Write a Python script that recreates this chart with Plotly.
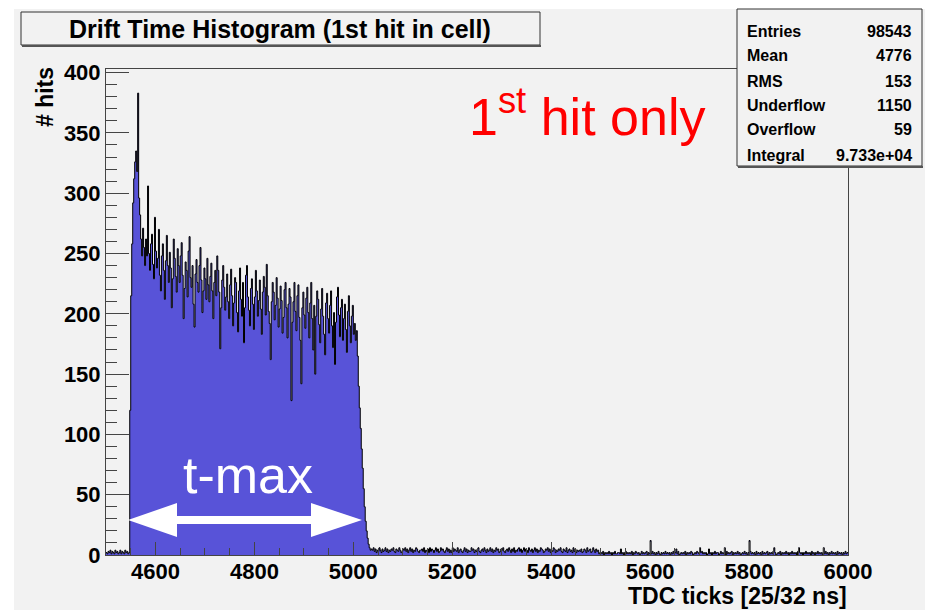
import plotly.graph_objects as go

# ---------------- data ----------------
BIN_START = 4500
BIN_WIDTH = 2

# counts 4500-4547 (before the drift-time edge), one digit per bin
PRE = "213241321423124132142312"

# counts 4548-5035
MAIN = [
    120, 215, 258, 292, 312, 326, 335, 318, 383, 296,
    282, 262, 248, 271, 255, 240, 262, 248, 306, 250,
    236, 258, 266, 241, 229, 280, 252, 238, 246, 270,
    232, 219, 248, 258, 236, 212, 244, 265, 240, 226,
    251, 238, 205, 229, 262, 246, 231, 218, 254, 240,
    226, 248, 259, 232, 196, 221, 243, 236, 214, 252,
    264, 230, 222, 240, 208, 189, 233, 245, 226, 218,
    240, 255, 228, 201, 219, 238, 229, 212, 246, 224,
    210, 231, 242, 219, 196, 226, 236, 215, 248, 236,
    218, 171, 205, 228, 240, 222, 203, 214, 233, 210,
    196, 224, 237, 215, 190, 209, 230, 226, 201, 185,
    219, 238, 212, 198, 226, 176, 205, 232, 240, 214,
    203, 190, 221, 229, 208, 187, 214, 236, 219, 198,
    211, 228, 204, 183, 218, 231, 222, 199, 241, 215,
    202, 192, 162, 210, 226, 218, 195, 207, 230, 213,
    189, 204, 223, 211, 184, 197, 220, 226, 205, 180,
    208, 221, 214, 128, 193, 210, 226, 202, 186, 215,
    224, 197, 178, 142, 205, 218, 199, 188, 213, 222,
    201, 180, 209, 226, 196, 170, 207, 150, 198, 219,
    212, 191, 176, 204, 221, 198, 183, 166, 209, 217,
    196, 184, 207, 219, 190, 172, 201, 158, 193, 214,
    222, 199, 181, 205, 212, 178, 196, 208, 187, 168,
    202, 215, 190, 176, 198, 207, 183, 192, 178, 186,
    165, 140, 122, 105, 88, 72, 55, 40, 28, 20, 14, 9, 6, 4,
]

# counts 5036-5999 (late hits / noise), one digit per bin
TAIL = (
    "5463524364" "2534635243" "5463254364" "2354635246" "3524365324"
    "4536243526" "3542463523" "6453246352" "4263543624" "5324635243"
    "3645243563" "2453642534" "6352436452" "3546324536" "4253624356"
    "3524635426" "4352463524" "3654235463" "5243652435" "4632543624"
    "5342635243" "4352354263" "4523642534" "1221302121" "3120213112"
    "2131202312" "1213021321" "2013121230" "2121312021" "3102121312"
    "1202131221" "3012121302" "1213201213" "2102312120" "1312021312"
    "2013121203" "1212302121" "3120121312" "0213121203" "1212031212"
    "3021213120" "1213021213" "1202131212" "0312120213" "1212031202"
    "1312120213" "1202131212" "0312120213" "12"
)
TAIL_SPIKES = {5540: 5, 5600: 12, 5652: 5, 5700: 6, 5718: 5, 5750: 6,
               5800: 12, 5850: 6, 5900: 6, 5950: 6}

STATS_LABELS = ["Entries", "Mean", "RMS", "Underflow", "Overflow", "Integral"]
STATS_VALUES = ["98543", "4776", "153", "1150", "59", "9.733e+04"]

TITLE = "Drift Time Histogram (1st hit in cell)"
X_TITLE = "TDC ticks [25/32 ns]"
Y_TITLE = "# hits"
X_TICKS = [4600, 4800, 5000, 5200, 5400, 5600, 5800, 6000]
Y_TICKS = [0, 50, 100, 150, 200, 250, 300, 350, 400]

# ---------------- build histogram ----------------
counts = [int(c) for c in PRE] + MAIN + [int(c) for c in TAIL]
tail_start = BIN_START + BIN_WIDTH * (len(PRE) + len(MAIN))
for x, v in TAIL_SPIKES.items():
    i = (x - tail_start) // BIN_WIDTH + len(PRE) + len(MAIN)
    if 0 <= i < len(counts):
        counts[i] = v
edges = [BIN_START + BIN_WIDTH * i for i in range(len(counts) + 1)]
ys = counts + [counts[-1]]

# ---------------- layout geometry ----------------
W, H = 925, 610
L, R, T, B = 106, 848, 69, 555


def px(x):
    return (x - L) / (R - L)


def py(y):
    return (B - y) / (B - T)


FONT = "Liberation Sans, Arial, sans-serif"
FILL = "rgb(88,83,216)"
BG = "#f2f2f2"

fig = go.Figure()
fig.add_trace(go.Scatter(
    x=edges, y=ys, mode="lines", line_shape="hv",
    line=dict(color="black", width=1),
    fill="tozeroy", fillcolor=FILL, hoverinfo="skip", showlegend=False,
))

shapes = []
# white outer strips (ROOT canvas border look)
shapes.append(dict(type="rect", xref="paper", yref="paper",
                   x0=px(0), x1=px(14), y0=py(W), y1=py(0),
                   fillcolor="white", line_width=0, layer="above"))
shapes.append(dict(type="rect", xref="paper", yref="paper",
                   x0=px(0), x1=px(W), y0=py(9), y1=py(0),
                   fillcolor="white", line_width=0, layer="above"))
# title box
shapes.append(dict(type="rect", xref="paper", yref="paper",
                   x0=px(21), x1=px(540), y0=py(45), y1=py(12),
                   fillcolor=BG, line=dict(color="#333", width=1), layer="above"))
shapes.append(dict(type="line", xref="paper", yref="paper",
                   x0=px(22), x1=px(541), y0=py(46), y1=py(46),
                   line=dict(color="#555", width=2), layer="above"))
# stats box
shapes.append(dict(type="rect", xref="paper", yref="paper",
                   x0=px(737), x1=px(922), y0=py(166), y1=py(9),
                   fillcolor=BG, line=dict(color="#333", width=1), layer="above"))
shapes.append(dict(type="line", xref="paper", yref="paper",
                   x0=px(738), x1=px(923), y0=py(167), y1=py(167),
                   line=dict(color="#555", width=2), layer="above"))

# white double arrow
pts = [(128, 520), (177, 503), (177, 516), (311, 516), (311, 503), (362, 520),
       (311, 537), (311, 524), (177, 524), (177, 537)]
path = "M " + " L ".join(f"{px(a):.5f},{py(b):.5f}" for a, b in pts) + " Z"
shapes.append(dict(type="path", xref="paper", yref="paper", path=path,
                   fillcolor="white", line=dict(color="white", width=0), layer="above"))

annotations = []
annotations.append(dict(text=f"<b>{TITLE}</b>", xref="paper", yref="paper",
                        x=px(280), y=py(29), xanchor="center", yanchor="middle",
                        showarrow=False, font=dict(family=FONT, size=25, color="black")))
rows_y = [32, 56, 81, 105, 129, 155]
for lab, val, yy in zip(STATS_LABELS, STATS_VALUES, rows_y):
    annotations.append(dict(text=f"<b>{lab}</b>", xref="paper", yref="paper",
                            x=px(745), y=py(yy), xanchor="left", yanchor="middle",
                            showarrow=False, font=dict(family=FONT, size=16, color="black")))
    annotations.append(dict(text=f"<b>{val}</b>", xref="paper", yref="paper",
                            x=px(914), y=py(yy), xanchor="right", yanchor="middle",
                            showarrow=False, font=dict(family=FONT, size=16, color="black")))
annotations.append(dict(text="1<sup>st</sup> hit only", xref="paper", yref="paper",
                        x=px(587), y=py(113), xanchor="center", yanchor="middle",
                        showarrow=False, font=dict(family=FONT, size=52, color="#ff0000")))
annotations.append(dict(text="t-max", xref="paper", yref="paper",
                        x=px(248), y=py(475), xanchor="center", yanchor="middle",
                        showarrow=False, font=dict(family=FONT, size=52, color="white")))
annotations.append(dict(text=f"<b>{X_TITLE}</b>", xref="paper", yref="paper",
                        x=px(849), y=py(596), xanchor="right", yanchor="middle",
                        showarrow=False, font=dict(family=FONT, size=23, color="black")))
annotations.append(dict(text=f"<b>{Y_TITLE}</b>", xref="paper", yref="paper",
                        x=px(45), y=py(97), xanchor="center", yanchor="middle",
                        textangle=-90, showarrow=False,
                        font=dict(family=FONT, size=23, color="black")))

tickfont = dict(family=FONT, size=22, color="black", weight="bold")
fig.update_layout(
    width=W, height=H,
    margin=dict(l=L, r=W - R, t=T, b=H - B, pad=0),
    paper_bgcolor=BG, plot_bgcolor=BG,
    showlegend=False,
    shapes=shapes, annotations=annotations,
    xaxis=dict(range=[4500, 6000], tickvals=X_TICKS, ticktext=[str(v) for v in X_TICKS],
               ticks="inside", ticklen=13, tickcolor="#444", tickwidth=1,
               ticklabelstandoff=-3,
               minor=dict(dtick=50, tick0=4500, ticks="inside", ticklen=7, tickcolor="#444"),
               showgrid=False, zeroline=False, showline=True, linecolor="#444",
               linewidth=1, mirror=True, tickfont=tickfont),
    yaxis=dict(range=[0, 403], tickvals=Y_TICKS, ticktext=[str(v) for v in Y_TICKS],
               ticks="inside", ticklen=23, tickcolor="#444", tickwidth=1,
               minor=dict(dtick=10, tick0=0, ticks="inside", ticklen=11, tickcolor="#444"),
               showgrid=False, zeroline=False, showline=True, linecolor="#444",
               linewidth=1, mirror=True, tickfont=tickfont),
)

fig.write_html("out.html")
